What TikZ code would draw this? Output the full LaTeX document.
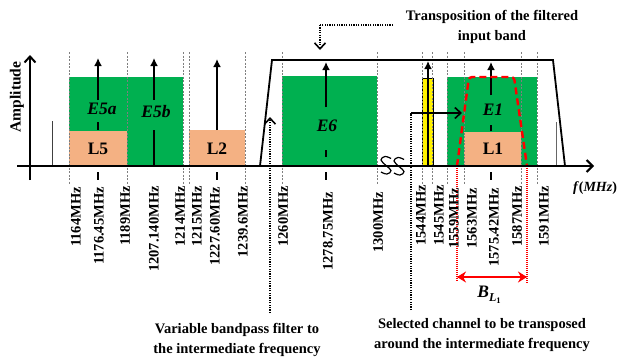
\documentclass[tikz,border=0pt]{standalone}
\usepackage{fontspec}
\setmainfont{Liberation Serif}
\usetikzlibrary{arrows.meta}

\definecolor{bandgreen}{HTML}{00B050}
\definecolor{bandorange}{HTML}{F4B183}
\definecolor{guidegray}{HTML}{7F7F7F}

\newcommand\freqfont{\fontsize{14.5}{16}\selectfont\bfseries}
\newcommand\notefont{\fontsize{14.5}{20}\selectfont\bfseries}
\newcommand\bandfont{\fontsize{17.5}{20}\selectfont\bfseries}

\begin{document}
\begin{tikzpicture}[x=1pt,y=-1pt,
  guide/.style={guidegray, line width=0.7pt, dash pattern=on 2pt off 1.5pt},
  tick/.style={black, line width=1.2pt},
  freq/.style={rotate=90, anchor=east, inner sep=0pt, font=\freqfont},
  carrier/.style={line width=1.8pt, -{Latex[length=8pt,width=8pt]}},
  bandlbl/.style={inner sep=0pt, font=\bandfont},
  siglbl/.style={inner sep=0pt, font=\bandfont\itshape},
  note/.style={align=center, inner sep=0pt, font=\notefont},
  dotline/.style={line width=2.2pt, dash pattern=on 1.2pt off 1.2pt},
  barb/.style={-{Straight Barb[length=6pt,width=11pt,line width=1.6pt]}}]
\useasboundingbox (0,0) rectangle (619,362);

% ---- spectral bands ----
\fill[bandgreen] (69,77) rectangle (183,166);
\fill[bandgreen] (282,76) rectangle (377,166);
\fill[bandgreen] (447,77) rectangle (537,166);
\fill[bandorange] (69,131) rectangle (127,166);
\fill[bandorange] (189,130) rectangle (245,166);
\fill[bandorange] (464,132) rectangle (521,166);
\filldraw[fill=yellow, draw=black, line width=0.8pt] (422,78) rectangle (433,166);

% ---- band edge guides ----
\foreach \x in {69,127,183,189,245,282,377,422,432,447,464,521,537}
  \draw[guide] (\x,52) -- (\x,184);
\foreach \x in {98,217,326,491}
  \draw[tick] (\x,172) -- (\x,180);

% ---- small reference lines ----
\draw[black!75, line width=1pt] (52,121) -- (52,166);
\draw[black!60, line width=1pt] (556,122) -- (556,166);

% ---- carriers ----
\draw[carrier] (98,100) -- (98,58);
\draw[line width=1.8pt] (98,122) -- (98,130);
\draw[carrier] (154,100) -- (154,58);
\draw[line width=1.8pt] (154,130) -- (154,166);
\draw[carrier] (217,130) -- (217,59);
\draw[carrier] (326,107) -- (326,62);
\draw[line width=1.8pt] (326,150) -- (326,157);
\draw[carrier] (428,166) -- (428,61);
\draw[carrier] (491,95) -- (491,62);
\draw[line width=1.8pt] (491,125) -- (491,131);

% ---- band labels ----
\node[siglbl] (e5a) at (102,109) {E5a};
\node[siglbl] (e5b) at (156,112) {E5b};
\node[siglbl] (e6) at (327,126) {E6};
\node[siglbl] (e1) at (493,110) {E1};
\node[bandlbl] (l5) at (98,149) {L5};
\node[bandlbl] (l2) at (217,149) {L2};
\node[bandlbl] (l1) at (493,149) {L1};

% ---- bandpass filter response ----
\draw[line width=1.8pt, line join=miter] (260,166) -- (272,60) -- (553,60) -- (565,166);

% ---- selected channel filter ----
\draw[red, line width=2.4pt, dash pattern=on 7pt off 4pt, rounded corners=3pt]
  (457,166) -- (469,77) -- (514,77) -- (527,166);
\draw[red, line width=1.3pt, dash pattern=on 1pt off 1pt] (457,168) -- (457,281);
\draw[red, line width=1.3pt, dash pattern=on 1pt off 1pt] (527,168) -- (527,283);
\coordinate (bwL) at (457,277);
\coordinate (bwR) at (527,277);
\draw[red, line width=2.4pt, {Stealth[length=9pt,width=11pt]}-{Stealth[length=9pt,width=11pt]}] (bwL) -- (bwR);
\node[siglbl] (bw) at (489,295)
  {B\raisebox{-4pt}{\fontsize{12}{12}\selectfont L\raisebox{-2.5pt}{\fontsize{8.5}{9}\selectfont\upshape 1}}};

% ---- axes ----
\coordinate (xo) at (17,166);
\coordinate (xe) at (594,166);
\coordinate (yo) at (30,180);
\coordinate (ye) at (30,55);
\draw[line width=2.2pt, -{Straight Barb[length=6pt,width=12pt,line width=2pt]}] (xo) -- (xe);
\draw[line width=2.2pt, -{Straight Barb[length=6pt,width=11pt,line width=2pt]}] (yo) -- (ye);
\node[rotate=90, inner sep=0pt, font=\fontsize{15.5}{18}\selectfont\bfseries] (amp) at (17,97) {Amplitude};
\node[inner sep=0pt, font=\fontsize{14}{16}\selectfont\bfseries] (fmhz) at (595,188) {\textit{f}(\textit{MHz})};

% ---- axis break ----
\draw[line width=1.2pt] plot[smooth, tension=0.7] coordinates
  {(391,158.5) (385,156.5) (381,160) (386,165.5) (391,170.5) (387,174) (381,172)};
\draw[line width=1.2pt] plot[smooth, tension=0.7] coordinates
  {(404,159.5) (398,157.5) (394,161) (399,166.5) (404,171.5) (400,175) (394,173)};

% ---- frequency labels ----
\node[freq] (f1164) at (76,187) {1164MHz};
\node[freq] (f1176) at (99,187) {1176.45MHz};
\node[freq] (f1189) at (125,186) {1189MHz};
\node[freq] (f1207) at (154,186) {1207.140MHz};
\node[freq] (f1214) at (180,186) {1214MHz};
\node[freq] (f1215) at (197,186) {1215MHz};
\node[freq] (f1227) at (215,187) {1227.60MHz};
\node[freq] (f1239) at (243,186) {1239.6MHz};
\node[freq] (f1260) at (283,186) {1260MHz};
\node[freq] (f1278) at (328,192) {1278.75MHz};
\node[freq] (f1300) at (378,192) {1300MHz};
\node[freq] (f1544) at (421,185) {1544MHz};
\node[freq] (f1545) at (439,185) {1545MHz};
\node[freq] (f1559) at (454,188) {1559MHz};
\node[freq] (f1563) at (472,188) {1563MHz};
\node[freq] (f1575) at (494,188) {1575.42MHz};
\node[freq] (f1587) at (517,186) {1587MHz};
\node[freq] (f1591) at (544,186) {1591MHz};

% ---- annotations ----
\node[note] (trans) at (492,27) {Transposition of the filtered\\input band};
\node[note] (vbf) at (237,340) {Variable bandpass filter to\\the intermediate frequency};
\node[note] (sel) at (482,335) {Selected channel to be transposed\\around the intermediate frequency};

\coordinate (transL) at (393,25);
\coordinate (transC) at (320,25);
\coordinate (transT) at (320,50);
\draw[line width=2pt, dash pattern=on 1.2pt off 1.2pt] (transL) -- (transC);
\draw[line width=2pt, dash pattern=on 1.2pt off 1.2pt, barb] (transC) -- (transT);

\coordinate (vbfB) at (270,313);
\coordinate (vbfT) at (270,117);
\draw[dotline, barb] (vbfB) -- (vbfT);

\coordinate (selB) at (411,310);
\coordinate (selC) at (411,113);
\coordinate (selT) at (462,113);
\draw[dotline] (selB) -- (selC);
\draw[line width=2pt, barb] (selC) -- (selT);
\end{tikzpicture}
\end{document}
